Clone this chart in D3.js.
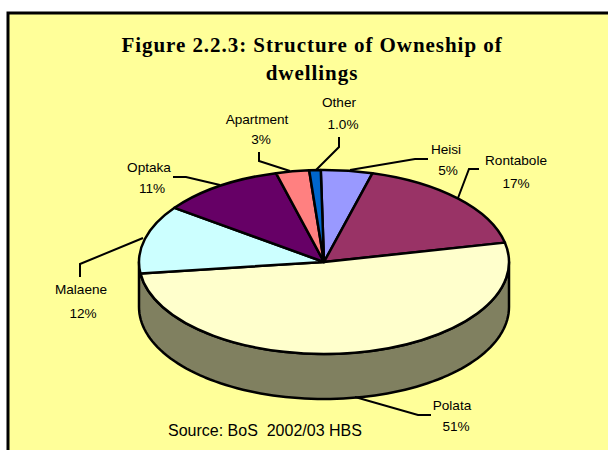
<!DOCTYPE html>
<html>
<head>
<meta charset="utf-8">
<script src="https://cdn.jsdelivr.net/npm/d3@7"></script>
<style>
  html, body { margin: 0; padding: 0; background: #fff; overflow: hidden; }
  svg { display: block; }
</style>
</head>
<body>
<svg id="chart"></svg>
<script>
// Slice names and shares
const categories = ["Heisi", "Rontabole", "Polata", "Malaene", "Optaka", "Apartment", "Other"];
const shares = [4.5, 17.4, 51.4, 12, 10.8, 2.9, 1.0];
const shareLabels = ["5%", "17%", "51%", "12%", "11%", "3%", "1.0%"];
const titleLines = ["Figure 2.2.3: Structure of Owneship of", "dwellings"];
const sourceNote = "Source: BoS  2002/03 HBS";

const width = 608, height = 450;
const cx = 324, cy = 262, rx = 185, ry = 92, depth = 45;
const startAngle = -1 * Math.PI / 180;

const colors = d3.scaleOrdinal()
    .domain(categories)
    .range(["#9999FF", "#993366", "#FFFFCC", "#CCFFFF", "#660066", "#FF8080", "#0066CC"]);

const svg = d3.select("#chart")
    .attr("width", width)
    .attr("height", height);

// Background with the black frame, open at the right and bottom
svg.append("rect")
    .attr("x", 8).attr("y", 13)
    .attr("width", width + 10).attr("height", height + 10)
    .attr("fill", "#FFFF99")
    .attr("stroke", "#000")
    .attr("stroke-width", 3);

// Title
svg.selectAll(".title")
    .data(titleLines)
    .enter().append("text")
    .attr("class", "title")
    .attr("x", 312)
    .attr("y", (d, i) => 52 + i * 28)
    .attr("text-anchor", "middle")
    .style("font-family", "'Liberation Serif', serif")
    .style("font-weight", "bold")
    .style("font-size", "21px")
    .style("letter-spacing", "0.95px")
    .text(d => d);

// Side wall: front half of the ellipse, top edge then bottom edge
const frontAngles = d3.range(90, 270.5, 2).map(a => a * Math.PI / 180);
const wallPoints = frontAngles.map(a => [cx + rx * Math.sin(a), cy - ry * Math.cos(a)])
    .concat(frontAngles.slice().reverse().map(a => [cx + rx * Math.sin(a), cy + depth - ry * Math.cos(a)]));

svg.append("path")
    .attr("d", d3.line()(wallPoints) + "Z")
    .attr("fill", "#808060")
    .attr("stroke", "#000")
    .attr("stroke-width", 2.5)
    .attr("stroke-linejoin", "round");

// Top of the pie, a flat arc squashed into an ellipse
const pie = d3.pie().sort(null).startAngle(startAngle).endAngle(startAngle + 2 * Math.PI);
const arc = d3.arc().innerRadius(0).outerRadius(rx);

svg.append("g")
    .attr("transform", `translate(${cx},${cy}) scale(1,${ry / rx})`)
    .selectAll("path")
    .data(pie(shares))
    .enter().append("path")
    .attr("d", arc)
    .attr("fill", (d, i) => colors(categories[i]))
    .attr("stroke", "#000")
    .attr("stroke-width", 2.5)
    .attr("stroke-linejoin", "round")
    .attr("vector-effect", "non-scaling-stroke");

// Labels and leader lines, one entry per category
const labelLayout = [
    {name: [446, 154], pct: [448, 175], leader: [[428, 159], [415, 159], [350, 170]]},
    {name: [516, 165], pct: [516, 188], leader: [[479, 169], [469, 169], [458, 198]]},
    {name: [452, 410], pct: [456, 431], leader: [[431, 415], [418, 415], [355, 397]]},
    {name: [81, 294], pct: [83, 318], leader: [[80, 277], [80, 264], [143, 238]]},
    {name: [149, 172], pct: [152, 193], leader: [[173, 177], [186, 177], [220, 185]]},
    {name: [257, 124], pct: [261, 144], leader: [[259, 152], [259, 161], [290, 171]]},
    {name: [339, 107], pct: [343, 129], leader: [[339, 137], [339, 147], [316, 170]]}
];

const labels = svg.selectAll(".label")
    .data(categories)
    .enter().append("g")
    .attr("class", "label")
    .style("font-family", "'Liberation Sans', Arial, sans-serif")
    .style("font-size", "13.6px")
    .attr("text-anchor", "middle");

labels.append("path")
    .attr("d", (d, i) => d3.line()(labelLayout[i].leader))
    .attr("fill", "none")
    .attr("stroke", "#000")
    .attr("stroke-width", 2);

labels.append("text")
    .attr("x", (d, i) => labelLayout[i].name[0])
    .attr("y", (d, i) => labelLayout[i].name[1])
    .text(d => d);

labels.append("text")
    .attr("x", (d, i) => labelLayout[i].pct[0])
    .attr("y", (d, i) => labelLayout[i].pct[1])
    .text((d, i) => shareLabels[i]);

// Source note
svg.append("text")
    .attr("x", 168)
    .attr("y", 436)
    .style("font-family", "'Liberation Sans', Arial, sans-serif")
    .style("font-size", "16px")
    .style("white-space", "pre")
    .text(sourceNote);
</script>
</body>
</html>
